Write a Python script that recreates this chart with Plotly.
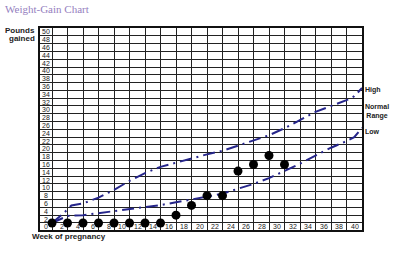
import plotly.graph_objects as go

# ---- data ----
weeks_dots = [0, 2, 4, 6, 8, 10, 12, 14, 16, 18, 20, 22, 24, 26, 28, 30]
gain_dots = [0, 0, 0, 0, 0, 0, 0, 0, 2, 4.5, 7, 7, 13.3, 15, 17.3, 15]

high_weeks = [0, 1.5, 2.5, 4, 6, 8, 10, 12, 14, 16, 18, 20, 22, 24, 26, 28, 30, 32, 34, 36, 38, 39, 40]
high_vals = [0, 2.5, 4.5, 5, 6.5, 8.5, 10.8, 12.8, 14.4, 15.5, 16.6, 17.6, 18.5, 19.8, 21, 22.5, 24.3, 26.5, 28.5, 30, 31.5, 32.5, 34.6]

low_weeks = [0, 2, 4, 6, 8, 10, 12, 14, 16, 18, 20, 22, 24, 26, 28, 30, 32, 34, 36, 38, 39, 40]
low_vals = [0, 1.8, 2, 2.5, 3, 3.5, 4, 4.6, 5.3, 6, 6.7, 7.5, 8.8, 10, 11.5, 13.3, 15.2, 17.3, 19.3, 21, 22, 24.4]

x_tick_labels = [str(w) for w in range(2, 41, 2)]
y_tick_labels = [str(p) for p in range(2, 51, 2)]

title_text = "Weight-Gain Chart"
y_title = ["Pounds", "gained"]
x_title = "Week of pregnancy"
right_labels = [("High", 34.2), ("Normal<br>Range", 28.5), ("Low", 23.5)]

LINE_COLOR = "#25258a"
SANS = "Liberation Sans, Arial, sans-serif"
W, H = 400, 258
ML, MR, MT, MB = 40, 38, 28, 28
PW, PH = W - ML - MR, H - MT - MB


def px_to_paper(px, py):
    return (px - ML) / PW, (H - MB - py) / PH


fig = go.Figure()

dash = "12px,5px,2px,5px"
fig.add_trace(go.Scatter(x=high_weeks, y=high_vals, mode="lines",
                         line=dict(color=LINE_COLOR, width=2, dash=dash),
                         hoverinfo="skip"))
fig.add_trace(go.Scatter(x=low_weeks, y=low_vals, mode="lines",
                         line=dict(color=LINE_COLOR, width=2, dash=dash),
                         hoverinfo="skip"))
fig.add_trace(go.Scatter(x=weeks_dots, y=gain_dots, mode="markers",
                         marker=dict(color="black", size=9),
                         hoverinfo="skip"))

ann = []
tick_font = dict(family=SANS, size=7, color="#222")
# x tick labels, right-aligned in the cell left of each grid line
for lab in x_tick_labels:
    ann.append(dict(x=float(lab) - 0.15, y=-0.9, text=lab, xref="x", yref="y",
                    xanchor="right", yanchor="middle", showarrow=False,
                    font=tick_font))
# y tick labels, in the left label column, in the cell below each line
for lab in y_tick_labels:
    ann.append(dict(x=-0.75, y=float(lab) - 1, text=lab, xref="x", yref="y",
                    xanchor="center", yanchor="middle", showarrow=False,
                    font=tick_font))
# corner 0
ann.append(dict(x=-0.75, y=-0.9, text="0", xref="x", yref="y",
                xanchor="center", yanchor="middle", showarrow=False,
                font=tick_font))

# title
tx, ty = px_to_paper(3, 9)
ann.append(dict(x=tx, y=ty, text=title_text, xref="paper", yref="paper",
                xanchor="left", yanchor="middle", showarrow=False,
                font=dict(family="Liberation Serif, Times New Roman, serif",
                          size=11, color="#9580c0")))

lab_font = dict(family=SANS, size=8, color="#222")
px1, py1 = px_to_paper(37, 30.5)
ann.append(dict(x=px1, y=py1, text="<b>" + y_title[0] + "</b>", xref="paper", yref="paper",
                xanchor="right", yanchor="middle", showarrow=False, font=lab_font))
px2, py2 = px_to_paper(37, 38)
ann.append(dict(x=px2, y=py2, text="<b>" + y_title[1] + "</b>", xref="paper", yref="paper",
                xanchor="right", yanchor="middle", showarrow=False, font=lab_font))
px3, py3 = px_to_paper(30, 236.5)
ann.append(dict(x=px3, y=py3, text="<b>" + x_title + "</b>", xref="paper", yref="paper",
                xanchor="left", yanchor="middle", showarrow=False, font=lab_font))

for txt, yv in right_labels:
    ann.append(dict(x=40, y=yv, xref="x", yref="y", text="<b>" + txt + "</b>",
                    xanchor="left", yanchor="middle", showarrow=False, xshift=1,
                    font=dict(family=SANS, size=7, color="#222")))

fig.update_layout(
    width=W, height=H,
    margin=dict(l=ML, r=MR, t=MT, b=MB),
    paper_bgcolor="white", plot_bgcolor="white",
    showlegend=False,
    annotations=ann,
    xaxis=dict(range=[-1.55, 40], tick0=0, dtick=2, showgrid=True,
               gridcolor="#222", gridwidth=1, zeroline=False,
               showticklabels=False, ticks="", showline=True, mirror=True,
               linecolor="#111", linewidth=2, fixedrange=True),
    yaxis=dict(range=[-1.8, 50], tick0=0, dtick=2, showgrid=True,
               gridcolor="#222", gridwidth=1, zeroline=False,
               showticklabels=False, ticks="", showline=True, mirror=True,
               linecolor="#111", linewidth=2, fixedrange=True),
)

fig.write_html("out.html")
